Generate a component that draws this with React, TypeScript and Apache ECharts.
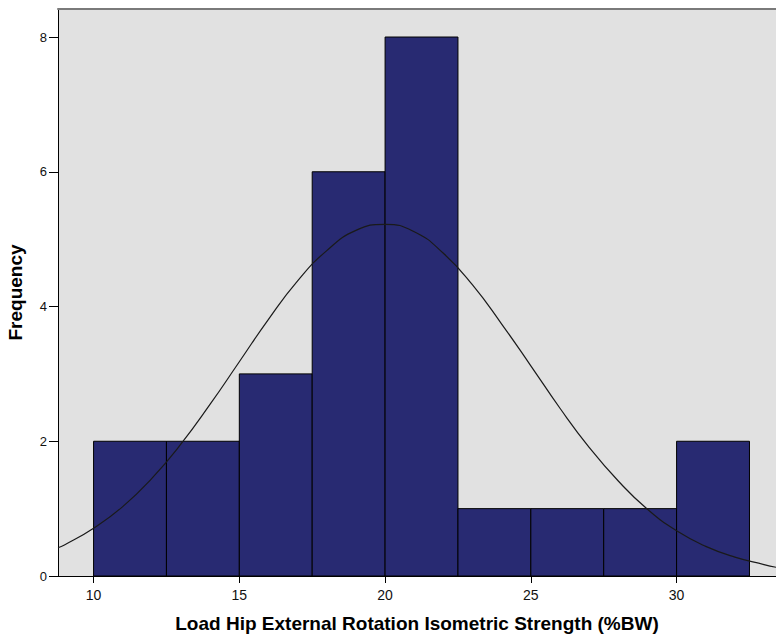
import React, { useEffect, useRef } from "react";
import * as echarts from "echarts";

const binStarts = [10, 12.5, 15, 17.5, 20, 22.5, 25, 27.5, 30];
const binWidth = 2.5;
const frequencies = [2, 2, 3, 6, 8, 1, 1, 1, 2];

const curveX = [8.78, 9, 10, 11, 12, 13, 14, 15, 16, 17, 18, 19, 20, 21, 22, 23, 24, 25, 26, 27, 28, 29, 30, 31, 32, 33, 33.41];
const curveY = [0.42, 0.46, 0.71, 1.03, 1.45, 1.96, 2.55, 3.18, 3.81, 4.38, 4.83, 5.13, 5.22, 5.11, 4.79, 4.32, 3.74, 3.12, 2.49, 1.91, 1.41, 0.99, 0.67, 0.44, 0.28, 0.17, 0.13];

const xTicks = [10, 15, 20, 25, 30];
const xTitle = "Load Hip External Rotation Isometric Strength (%BW)";
const yTitle = "Frequency";

const X_MIN = 8.78;
const X_MAX = 33.41;
const Y_MAX = 8.416;

export default function App() {
  const ref = useRef<HTMLDivElement>(null);
  useEffect(() => {
    if (!ref.current) return;
    const chart = echarts.init(ref.current, undefined, { renderer: "svg" });
    const bars = binStarts.map((s, i) => [s, s + binWidth, frequencies[i]]);
    const curve = curveX.map((x, i) => [x, curveY[i]]);
    const font = "'Liberation Sans', Arial, sans-serif";
    chart.setOption({
      animation: false,
      backgroundColor: "#ffffff",
      grid: {
        left: 58,
        top: 9,
        right: 0,
        bottom: 61,
        containLabel: false,
        outerBoundsMode: "none",
        show: true,
        backgroundColor: "#e1e1e1",
        borderWidth: 0,
      },
      xAxis: [
        {
          type: "value",
          min: X_MIN,
          max: X_MAX,
          position: "bottom",
          name: xTitle,
          nameLocation: "middle",
          nameGap: 38,
          nameTextStyle: { fontFamily: font, fontSize: 19, fontWeight: "bold", color: "#000" },
          axisLine: { show: true, onZero: false, lineStyle: { color: "#000", width: 1 } },
          axisTick: { show: true, length: 7, customValues: xTicks, lineStyle: { color: "#000" } },
          axisLabel: { customValues: xTicks, fontFamily: font, fontSize: 14, color: "#111", margin: 12 },
          splitLine: { show: false },
        },
        {
          type: "value",
          min: X_MIN,
          max: X_MAX,
          position: "top",
          axisLine: { show: true, onZero: false, lineStyle: { color: "#7a7a7a", width: 2 } },
          axisTick: { show: false },
          axisLabel: { show: false },
          splitLine: { show: false },
        },
      ],
      yAxis: {
        type: "value",
        min: 0,
        max: Y_MAX,
        interval: 2,
        name: yTitle,
        nameLocation: "middle",
        nameGap: 33,
        nameTextStyle: { fontFamily: font, fontSize: 19, fontWeight: "bold", color: "#000" },
        axisLine: { show: true, onZero: false, lineStyle: { color: "#000", width: 1 } },
        axisTick: { show: true, length: 9, lineStyle: { color: "#000" } },
        axisLabel: {
          fontFamily: font,
          fontSize: 13,
          color: "#111",
          margin: 11,
          showMaxLabel: false,
          formatter: (v: number) => (v % 2 === 0 ? String(v) : ""),
        },
        splitLine: { show: false },
      },
      series: [
        {
          type: "custom",
          xAxisIndex: 0,
          data: bars,
          encode: { x: [0, 1], y: 2 },
          renderItem: (params: any, api: any) => {
            const x0 = api.value(0);
            const x1 = api.value(1);
            const y = api.value(2);
            const p0 = api.coord([x0, y]);
            const p1 = api.coord([x1, 0]);
            return {
              type: "rect",
              shape: { x: p0[0], y: p0[1], width: p1[0] - p0[0], height: p1[1] - p0[1] },
              style: { fill: "#282a72", stroke: "#000", lineWidth: 1 },
            };
          },
          z: 2,
        },
        {
          type: "line",
          xAxisIndex: 0,
          data: curve,
          smooth: true,
          symbol: "none",
          lineStyle: { color: "#1a1a1a", width: 1.2 },
          z: 5,
        },
      ],
    });
    return () => chart.dispose();
  }, []);
  return (
    <div
      ref={ref}
      style={{ position: "fixed", left: 0, top: 0, width: 776, height: 637 }}
    />
  );
}
